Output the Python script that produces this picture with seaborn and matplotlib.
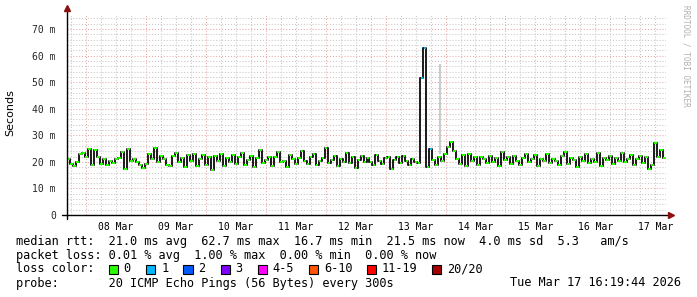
import numpy as np
import pandas as pd
import matplotlib
matplotlib.use("Agg")
import matplotlib.pyplot as plt
import seaborn as sns
from matplotlib.patches import Rectangle

# ---------------- data ----------------
# days counted from 07 Mar 00:00; graph spans 07 Mar 16:19:44 .. 17 Mar 16:19:44
range_start_day = 0.6804
range_end_day = 10.6804
sample_step_day = 0.05  # consolidated step shown by the graph

median_ms = [
    21.0, 19.2, 18.6, 20.1, 22.8, 23.2, 21.9, 25.0, 18.8, 24.3, 22.0, 19.1, 21.2, 18.7, 20.3, 19.4, 21.1, 21.6, 23.9, 17.2,
    24.8, 20.2, 21.0, 19.9, 18.9, 17.6, 19.3, 22.9, 21.0, 25.1, 20.1, 22.2, 21.0, 19.0, 18.6, 22.1, 23.4, 20.0, 21.3, 18.2,
    22.5, 20.4, 23.0, 18.5, 21.2, 22.6, 19.0, 21.8, 17.0, 22.4, 20.3, 23.1, 18.4, 21.5, 20.0, 22.7, 19.2, 21.9, 23.3, 18.9,
    20.6, 22.3, 18.1, 21.4, 24.6, 19.5, 20.8, 22.0, 18.6, 21.7, 23.8, 19.8, 20.4, 17.9, 22.6, 20.9, 19.3, 21.6, 24.0, 20.2,
    19.1, 21.8, 22.9, 18.7, 20.5, 21.3, 25.3, 19.6, 20.7, 22.2, 18.3, 21.1, 20.0, 23.5, 19.4, 21.9, 17.8, 20.6, 22.4, 19.9,
    21.5, 20.1, 18.8, 22.7, 20.3, 19.2, 21.4, 22.0, 17.5, 20.8, 21.7, 19.6, 22.3, 20.5, 18.9, 21.2, 20.0, 19.4, 51.7, 62.7,
    18.1, 24.8, 20.6, 19.0, 21.8, 20.4, 22.9, 25.5, 27.6, 24.2, 21.0, 19.3, 22.5, 18.4, 23.1, 20.2, 21.7, 18.8, 22.0, 20.9,
    19.5, 22.4, 20.1, 21.3, 18.6, 23.9, 20.7, 21.9, 19.2, 22.1, 20.4, 18.7, 21.6, 23.0, 19.8, 20.9, 22.6, 18.3, 21.1, 20.5,
    22.8, 19.6, 21.0, 20.2, 18.9, 22.3, 23.7, 19.1, 21.5, 20.6, 17.9, 21.8, 20.3, 22.9, 19.7, 21.2, 20.0, 23.4, 18.6, 21.4,
    20.8, 22.1, 19.3, 21.6, 20.4, 23.2, 19.9, 21.0, 22.5, 18.7, 20.9, 22.2, 19.5, 21.7, 17.4, 19.0, 27.1, 22.0, 24.3, 21.5,
]
# sample index -> lost pings (all others 0)
lost_pings = {118: 1, 119: 1, 121: 1}
# light smoke (ping spread) visible on one sample
smoke_index = [124]
smoke_low = [23.0]
smoke_high = [57.0]

loss_labels = ["0", "1", "2", "3", "4-5", "6-10", "11-19", "20/20"]
loss_colors = ["#26ff00", "#00b8ff", "#0059ff", "#7e00ff", "#ff00ff", "#ff5500", "#ff0000", "#a10000"]

day_labels = ["08 Mar", "09 Mar", "10 Mar", "11 Mar", "12 Mar", "13 Mar", "14 Mar", "15 Mar", "16 Mar", "17 Mar"]
day_positions = [1, 2, 3, 4, 5, 6, 7, 8, 9, 10]
y_ticks = [0, 10, 20, 30, 40, 50, 60, 70]
y_labels = ["0", "10 m", "20 m", "30 m", "40 m", "50 m", "60 m", "70 m"]
y_max = 75.3

stats_line1 = "median rtt:  21.0 ms avg  62.7 ms max  16.7 ms min  21.5 ms now  4.0 ms sd  5.3   am/s"
stats_line2 = "packet loss: 0.01 % avg  1.00 % max  0.00 % min  0.00 % now"
stats_line3 = "loss color:"
stats_line4 = "probe:       20 ICMP Echo Pings (56 Bytes) every 300s"
stamp = "Tue Mar 17 16:19:44 2026"
watermark = "RRDTOOL / TOBI OETIKER"

# ---------------- frame ----------------
n = len(median_ms)
t = [range_start_day + (i + 0.5) * sample_step_day for i in range(n)]
loss_idx = [lost_pings.get(i, 0) for i in range(n)]
df = pd.DataFrame({"t": t, "ms": median_ms, "loss": [loss_labels[k] for k in loss_idx]})

sns.set_style("white")
W, H = 697, 297
fig = plt.figure(figsize=(W / 100, H / 100), dpi=100)
fig.patch.set_facecolor("white")
L, R, T, B = 67, 666, 15, 215
ax = fig.add_axes([L / W, 1 - B / H, (R - L) / W, (B - T) / H])
ax.set_facecolor("white")

mono = "DejaVu Sans Mono"

# grid
minor_col = "#c6c6c6"
major_col = "#e8a8a8"
ax.set_xlim(range_start_day, range_end_day)
ax.set_ylim(0, y_max)
ax.set_xticks(np.arange(0.75, 10.7, 0.25), minor=True)
ax.set_yticks(np.arange(2, 76, 2), minor=True)
ax.grid(which="minor", axis="both", color=minor_col, lw=0.75, ls=(0, (1, 1.8)), zorder=0)
ax.set_yticks(y_ticks)
ax.set_xticks(day_positions)
ax.grid(which="major", axis="both", color=major_col, lw=0.75, ls=(0, (1, 1.8)), zorder=0.5)
ax.set_axisbelow(True)

# smoke
ax.vlines([t[i] for i in smoke_index], smoke_low, smoke_high, color="#cccccc", lw=1.5, zorder=1)

# median line + loss colored markers
sns.lineplot(data=df, x="t", y="ms", color="#1a1a1a", lw=1.4, drawstyle="steps-mid",
             estimator=None, sort=False, ax=ax, zorder=2)
sns.scatterplot(data=df, x="t", y="ms", hue="loss", palette=dict(zip(loss_labels, loss_colors)),
                marker="_", s=4, linewidth=1.4, legend=False, ax=ax, zorder=3)

ax.set_xlabel("")
ax.set_ylabel("")
for s in ax.spines.values():
    s.set_visible(False)

# axis labels
ax.set_xticklabels([])
for pos, lab in zip(day_positions, day_labels):
    ax.text(pos + 0.5, -0.035, lab, transform=ax.get_xaxis_transform(), ha="center", va="top",
            fontsize=7, family=mono, color="#000000")
ax.set_yticklabels(y_labels, fontsize=7, family=mono)
ax.tick_params(axis="both", which="both", length=0)
ax.tick_params(axis="y", pad=8)

# axes lines with arrows
axc = "#000000"
arrow_c = "#8b1010"
ax.plot([0, 0], [-0.02, 1.02], transform=ax.transAxes, color=axc, lw=1, clip_on=False, zorder=5)
ax.plot([-0.008, 1.003], [0, 0], transform=ax.transAxes, color=axc, lw=1, clip_on=False, zorder=5)
ax.plot([0], [1.035], transform=ax.transAxes, marker="^", ms=5, color=arrow_c, clip_on=False, zorder=6)
ax.plot([1.008], [0], transform=ax.transAxes, marker=">", ms=5, color=arrow_c, clip_on=False, zorder=6)

# y label
fig.text(10 / W, 1 - 113 / H, "Seconds", rotation=90, ha="center", va="center", fontsize=8,
         family="DejaVu Sans", color="#000000")

# watermark
fig.text(686 / W, 1 - 5 / H, watermark, rotation=270, ha="center", va="top", fontsize=5.6,
         family=mono, color="#b0b0b0")

# legend / stats
fs = 8.55
def ftext(x, y, s, **kw):
    fig.text(x / W, 1 - y / H, s, ha=kw.pop("ha", "left"), va="center", fontsize=fs, family=mono,
             color="#000000", **kw)

ftext(16, 241, stats_line1)
ftext(16, 255, stats_line2)
ftext(16, 269, stats_line3)
ftext(16, 283, stats_line4)
ftext(681, 283, stamp, ha="right")

box_x = [108.5, 146.4, 183.5, 220.5, 257.6, 309.0, 367.0, 431.7]
for bx, lab, col in zip(box_x, loss_labels, loss_colors):
    fig.patches.append(Rectangle((bx / W, 1 - 273.5 / H), 9 / W, 9 / H, transform=fig.transFigure,
                                 facecolor=col, edgecolor="#000000", lw=0.8))
    ftext(bx + 15, 269, lab)

fig.savefig("out.png", dpi=100, facecolor="white")
